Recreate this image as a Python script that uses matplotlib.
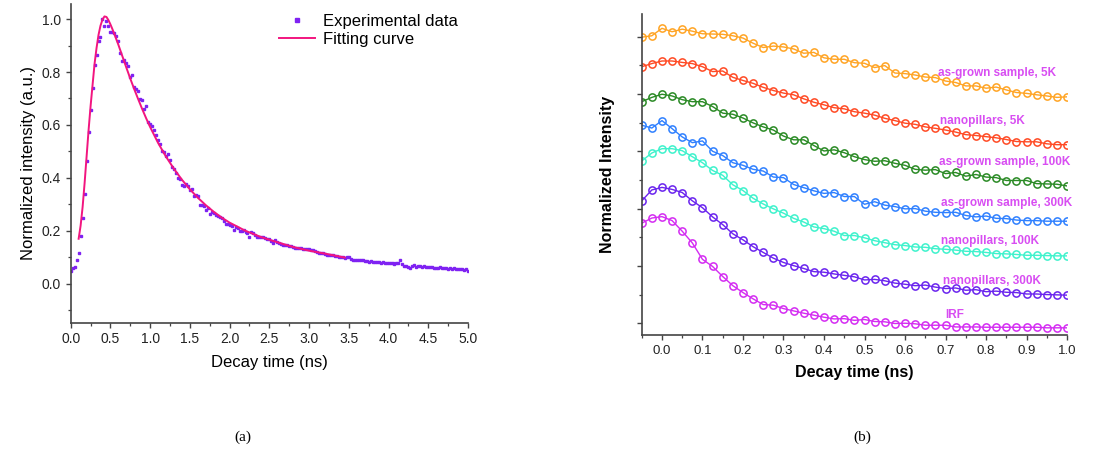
import numpy as np
import matplotlib.pyplot as plt

plt.rcParams['font.family'] = ['Liberation Sans', 'DejaVu Sans']

# -----------------------------
# PANEL (a) DATA
# -----------------------------
# experimental decay, sampled every 25 ps from 0 to 5 ns
exp_intensity = [
    0.047, 0.059, 0.062, 0.089, 0.116, 0.179, 0.249, 0.338, 0.462, 0.573,
    0.655, 0.739, 0.825, 0.863, 0.916, 0.932, 1.000, 0.972, 0.991, 0.975,
    0.953, 0.950, 0.946, 0.936, 0.918, 0.872, 0.840, 0.844, 0.834, 0.822,
    0.783, 0.790, 0.743, 0.734, 0.729, 0.699, 0.694, 0.660, 0.670, 0.610,
    0.605, 0.596, 0.582, 0.563, 0.544, 0.528, 0.500, 0.497, 0.481, 0.491,
    0.467, 0.440, 0.433, 0.418, 0.400, 0.396, 0.372, 0.369, 0.378, 0.368,
    0.354, 0.358, 0.333, 0.336, 0.331, 0.296, 0.298, 0.292, 0.280, 0.286,
    0.262, 0.272, 0.266, 0.258, 0.255, 0.252, 0.248, 0.236, 0.226, 0.225,
    0.222, 0.218, 0.203, 0.214, 0.212, 0.200, 0.198, 0.205, 0.196, 0.190,
    0.178, 0.196, 0.190, 0.185, 0.178, 0.178, 0.176, 0.177, 0.172, 0.168,
    0.169, 0.162, 0.154, 0.165, 0.156, 0.153, 0.152, 0.147, 0.146, 0.145,
    0.144, 0.142, 0.140, 0.137, 0.137, 0.136, 0.134, 0.133, 0.131, 0.130,
    0.130, 0.127, 0.126, 0.123, 0.120, 0.118, 0.115, 0.116, 0.112, 0.110,
    0.108, 0.110, 0.107, 0.106, 0.104, 0.103, 0.101, 0.100, 0.096, 0.103,
    0.100, 0.094, 0.091, 0.089, 0.091, 0.090, 0.088, 0.090, 0.086, 0.087,
    0.084, 0.085, 0.083, 0.084, 0.082, 0.083, 0.080, 0.082, 0.080, 0.079,
    0.078, 0.077, 0.078, 0.076, 0.077, 0.078, 0.088, 0.074, 0.068, 0.066,
    0.062, 0.060, 0.068, 0.072, 0.065, 0.066, 0.067, 0.065, 0.066, 0.064,
    0.065, 0.063, 0.064, 0.060, 0.058, 0.061, 0.063, 0.060, 0.058, 0.060,
    0.057, 0.058, 0.056, 0.058, 0.055, 0.056, 0.054, 0.055, 0.053, 0.055,
    0.048,
]
exp_time = np.arange(len(exp_intensity)) * 0.025

fit_time = [0.10, 0.125, 0.15, 0.175, 0.20, 0.225, 0.25, 0.275, 0.30, 0.325,
            0.35, 0.375, 0.40, 0.425, 0.45, 0.475, 0.50, 0.525, 0.55, 0.60,
            0.65, 0.70, 0.75, 0.80, 0.85, 0.90, 0.95, 1.00, 1.10, 1.20,
            1.30, 1.40, 1.50, 1.60, 1.70, 1.80, 1.90, 2.00, 2.20, 2.40,
            2.60, 2.80, 3.00, 3.20, 3.45]
fit_intensity = [0.170, 0.220, 0.290, 0.380, 0.480, 0.580, 0.670, 0.750, 0.830, 0.890,
                 0.940, 0.975, 0.998, 1.010, 1.008, 0.996, 0.980, 0.962, 0.943, 0.903,
                 0.860, 0.817, 0.775, 0.735, 0.697, 0.660, 0.625, 0.592, 0.532, 0.480,
                 0.434, 0.393, 0.357, 0.325, 0.297, 0.272, 0.250, 0.231, 0.200, 0.176,
                 0.157, 0.139, 0.125, 0.114, 0.099]

# -----------------------------
# PANEL (b) DATA (stacked, offset units)
# -----------------------------
ag_5k = [9.98, 10.03, 10.29, 10.17, 10.26, 10.19, 10.10, 10.09, 10.08, 10.03,
         9.95, 9.77, 9.62, 9.67, 9.64, 9.57, 9.42, 9.45, 9.26, 9.21,
         9.21, 9.09, 9.07, 8.92, 8.99, 8.73, 8.71, 8.66, 8.59, 8.57,
         8.45, 8.40, 8.28, 8.28, 8.20, 8.24, 8.14, 8.05, 8.02, 7.97,
         7.93, 7.88, 7.90]
np_5k = [8.95, 9.06, 9.15, 9.15, 9.10, 9.06, 8.95, 8.78, 8.80, 8.58,
         8.47, 8.37, 8.23, 8.12, 8.03, 7.97, 7.83, 7.71, 7.62, 7.52,
         7.48, 7.38, 7.33, 7.26, 7.15, 7.07, 6.98, 6.94, 6.85, 6.80,
         6.74, 6.67, 6.58, 6.55, 6.51, 6.47, 6.41, 6.34, 6.33, 6.33,
         6.26, 6.23, 6.23]
ag_100k = [7.73, 7.88, 7.99, 7.93, 7.80, 7.73, 7.73, 7.56, 7.33, 7.29,
           7.16, 6.99, 6.85, 6.74, 6.53, 6.40, 6.40, 6.20, 6.01, 6.05,
           5.95, 5.81, 5.71, 5.65, 5.67, 5.58, 5.51, 5.37, 5.34, 5.36,
           5.22, 5.26, 5.13, 5.19, 5.10, 5.08, 4.98, 4.98, 4.98, 4.87,
           4.86, 4.85, 4.79]
ag_300k = [6.91, 6.81, 7.07, 6.79, 6.50, 6.30, 6.36, 6.00, 5.85, 5.60,
           5.51, 5.37, 5.31, 5.10, 5.08, 4.84, 4.73, 4.62, 4.53, 4.56,
           4.42, 4.42, 4.15, 4.24, 4.12, 4.07, 3.99, 4.00, 3.91, 3.87,
           3.86, 3.87, 3.76, 3.71, 3.74, 3.66, 3.65, 3.60, 3.58, 3.58,
           3.56, 3.56, 3.56]
np_100k = [5.66, 5.94, 6.09, 6.09, 6.02, 5.81, 5.60, 5.33, 5.16, 4.83,
           4.63, 4.36, 4.16, 3.99, 3.84, 3.66, 3.53, 3.36, 3.30, 3.21,
           3.06, 3.06, 2.98, 2.88, 2.81, 2.74, 2.71, 2.66, 2.65, 2.60,
           2.58, 2.55, 2.51, 2.50, 2.47, 2.43, 2.42, 2.40, 2.37, 2.37,
           2.36, 2.35, 2.35]
np_300k = [4.27, 4.65, 4.74, 4.67, 4.56, 4.27, 4.03, 3.71, 3.44, 3.12,
           2.91, 2.67, 2.47, 2.27, 2.12, 2.01, 1.91, 1.80, 1.78, 1.72,
           1.67, 1.62, 1.51, 1.53, 1.48, 1.40, 1.36, 1.31, 1.33, 1.26,
           1.21, 1.23, 1.15, 1.17, 1.10, 1.12, 1.08, 1.07, 1.02, 1.02,
           1.00, 0.99, 0.98]
irf = [3.49, 3.67, 3.72, 3.58, 3.21, 2.80, 2.23, 1.98, 1.63, 1.31,
       1.07, 0.85, 0.65, 0.63, 0.51, 0.43, 0.35, 0.28, 0.21, 0.15,
       0.16, 0.10, 0.13, 0.06, 0.05, -0.01, 0.00, -0.02, -0.07, -0.07,
       -0.07, -0.13, -0.13, -0.13, -0.14, -0.14, -0.14, -0.14, -0.14, -0.14,
       -0.16, -0.16, -0.16]
decay_time = -0.05 + np.arange(len(irf)) * 0.025

series = [ag_5k, np_5k, ag_100k, ag_300k, np_100k, np_300k, irf]
series_colors = ['#ffa424', '#ff4a24', '#2a8a25', '#2f80ff', '#3ef2cc', '#6a24ee', '#d42cf2']
series_labels = ['as-grown sample, 5K', 'nanopillars, 5K', 'as-grown sample, 100K',
                 'as-grown sample, 300K', 'nanopillars, 100K', 'nanopillars, 300K', 'IRF']
label_x = [0.682, 0.686, 0.683, 0.688, 0.688, 0.694, 0.70]
label_y = [8.74, 7.06, 5.62, 4.21, 2.88, 1.48, 0.29]

axis_grey = '#444444'

# -----------------------------
# FIGURE
# -----------------------------
fig = plt.figure(figsize=(10.96, 4.57), dpi=100)

# panel (a)
ax1 = fig.add_axes([0.0645, 0.2939, 0.3625, 0.6974])
ax1.plot(exp_time, exp_intensity, linestyle='none', marker='s', markersize=2.0,
         color='#7f22f2', label='Experimental data')
ax1.plot(fit_time, fit_intensity, color='#f2157f', linewidth=1.4, label='Fitting curve')
ax1.set_xlim(0, 5)
ax1.set_ylim(-0.147, 1.057)
ax1.set_xticks(np.arange(0, 5.01, 0.5))
ax1.set_xticks(np.arange(0, 5.01, 0.25), minor=True)
ax1.set_yticks(np.arange(0, 1.01, 0.2))
ax1.set_yticks(np.arange(-0.1, 1.01, 0.1), minor=True)
ax1.set_xticklabels([f'{v:.1f}' for v in np.arange(0, 5.01, 0.5)])
ax1.set_yticklabels([f'{v:.1f}' for v in np.arange(0, 1.01, 0.2)])
ax1.set_xlabel('Decay time (ns)', fontsize=12, labelpad=6)
ax1.set_ylabel('Normalized intensity (a.u.)', fontsize=12, labelpad=4)
ax1.legend(loc='upper right', bbox_to_anchor=(1.012, 1.015), frameon=False, fontsize=12,
           handlelength=2.2, handletextpad=0.45, labelspacing=0.15, markerscale=1.3)

# panel (b)
ax2 = fig.add_axes([0.5855, 0.2670, 0.3881, 0.7024])
for vals, col in zip(series, series_colors):
    ax2.plot(decay_time, vals, color=col, linewidth=1.0, marker='o', markersize=5.2,
             markerfacecolor='none', markeredgecolor=col, markeredgewidth=1.1)
for txt, lx, ly in zip(series_labels, label_x, label_y):
    ax2.text(lx, ly, txt, color='#d84ef2', fontsize=8.5, fontweight='bold',
             ha='left', va='center')
ax2.set_xlim(-0.05, 1.0)
ax2.set_ylim(-0.41, 10.79)
ax2.set_xticks(np.arange(0, 1.01, 0.1))
ax2.set_xticks(np.arange(-0.05, 1.01, 0.05), minor=True)
ax2.set_xticklabels([f'{v:.1f}' for v in np.arange(0, 1.01, 0.1)])
ax2.set_yticks(np.arange(0, 10.1, 2))
ax2.set_yticks(np.arange(1, 10, 2), minor=True)
ax2.set_yticklabels([])
ax2.set_xlabel('Decay time (ns)', fontsize=11.5, fontweight='bold', labelpad=6)
ax2.set_ylabel('Normalized Intensity', fontsize=11.5, fontweight='bold', labelpad=12)

for ax, fs in ((ax1, 10), (ax2, 9.5)):
    for side in ('top', 'right'):
        ax.spines[side].set_visible(False)
    for side in ('left', 'bottom'):
        ax.spines[side].set_color(axis_grey)
        ax.spines[side].set_linewidth(1.2)
    ax.tick_params(which='major', direction='out', length=3.5, width=1.0,
                   color=axis_grey, labelsize=fs, labelcolor='#222222')
    ax.tick_params(which='minor', direction='out', length=2.2, width=0.9, color=axis_grey)

# captions
fig.text(243 / 1096, 1 - 437 / 457, '(a)', family='Liberation Serif', fontsize=11,
         ha='center', va='center')
fig.text(862 / 1096, 1 - 437 / 457, '(b)', family='Liberation Serif', fontsize=11,
         ha='center', va='center')

fig.savefig('out.png', dpi=100)
